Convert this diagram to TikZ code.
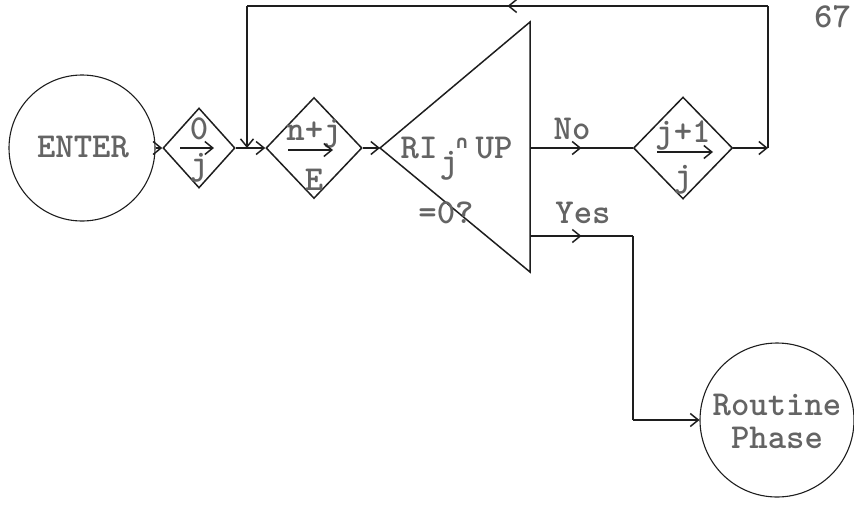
\documentclass[tikz,border=0pt]{standalone}
\usepackage{fontspec}
\usetikzlibrary{shapes.geometric,arrows.meta,decorations.markings}
\definecolor{linec}{RGB}{30,30,30}
\definecolor{txtc}{RGB}{100,100,100}
\begin{document}
\begin{tikzpicture}[x=1pt,y=-1pt,
  ln/.style={draw=linec,line width=1.5pt},
  tip/.style={-{Straight Barb[length=8pt,width=13pt]}},
  midarr/.style={postaction={decorate},decoration={markings,mark=at position 0.5 with {\arrow[linec,line width=1.5pt]{Straight Barb[length=8pt,width=13pt]}}}},
  txt/.style={font=\ttfamily\bfseries\fontsize{35}{37}\selectfont,text=txtc,inner sep=0pt},
  circ/.style={circle,ln,line width=1.1pt,inner sep=0pt},
  dia/.style={diamond,ln,inner sep=0pt},
]
\useasboundingbox (0,0) rectangle (854,507);
% start and end
\node[circ,minimum size=146pt] (enter) at (82,148) {};
\node[txt] (entert) at (83,147) {ENTER};
\node[circ,minimum size=154pt] (rp) at (777,420) {};
\node[txt] (rpt1) at (777,405) {Routine};
\node[txt] (rpt2) at (777,438) {Phase};
% diamonds
\node[dia,minimum width=72pt,minimum height=80pt] (d1) at (199,148) {};
\node[txt] (d1a) at (199,129) {0};
\node[txt] (d1b) at (199,168) {j};
\coordinate (d1l) at (180,148); \coordinate (d1r) at (214,148);
\draw[ln,line width=1.5pt,tip] (d1l) -- (d1r);
\node[dia,minimum width=96pt,minimum height=101pt] (d2) at (314,148) {};
\node[txt] (d2a) at (314,134) {n+j};
\node[txt] (d2b) at (314,180) {E};
\coordinate (d2l) at (288,150); \coordinate (d2r) at (333,150);
\draw[ln,line width=1.5pt,tip] (d2l) -- (d2r);
\node[dia,minimum width=99pt,minimum height=102pt] (d3) at (683,148) {};
\node[txt] (d3a) at (683,135) {j+1};
\node[txt] (d3b) at (683,180) {j};
\coordinate (d3l) at (657,152); \coordinate (d3r) at (713,152);
\draw[ln,line width=1.5pt,tip] (d3l) -- (d3r);
% triangle decision
\coordinate (ta) at (380,148);
\coordinate (tt) at (530,22);
\coordinate (tb) at (530,272);
\draw[ln] (ta) -- (tt) -- (tb) -- cycle;
\node[txt] (c1) at (419,148) {RI};
\node[txt] (c2) at (449,166) {j};
\node[txt,font=\fontspec{DejaVu Sans}\bfseries\fontsize{18}{20}\selectfont] (c3) at (462,143) {∩};
\node[txt] (c4) at (494,148) {UP};
\node[txt] (c5) at (446,213) {=0?};
% connectors
\coordinate (no0) at (530,148);
\coordinate (yes0) at (530,236);
\coordinate (r1) at (768,148);
\coordinate (r2) at (768,6);
\coordinate (r3) at (247,6);
\coordinate (j1) at (247,148);
\coordinate (y1) at (633,236);
\coordinate (y2) at (633,420);
\draw[ln,tip] (enter.east) -- (d1.west);
\draw[ln,tip] (d1.east) -- (d2.west);
\draw[ln,tip] (d2.east) -- (ta);
\draw[ln,midarr] (no0) -- (d3.west);
\draw[ln,tip] (d3.east) -- (r1);
\draw[ln] (r1) -- (r2);
\draw[ln,midarr] (r2) -- (r3);
\draw[ln,tip] (r3) -- (j1);
\draw[ln,midarr] (yes0) -- (y1);
\draw[ln] (y1) -- (y2);
\draw[ln,tip] (y2) -- (rp.west);
\node[txt] (no) at (572,129) {No};
\node[txt] (yes) at (583,213) {Yes};
\node[txt,anchor=west] (pg) at (814,17) {67};
\end{tikzpicture}
\end{document}
